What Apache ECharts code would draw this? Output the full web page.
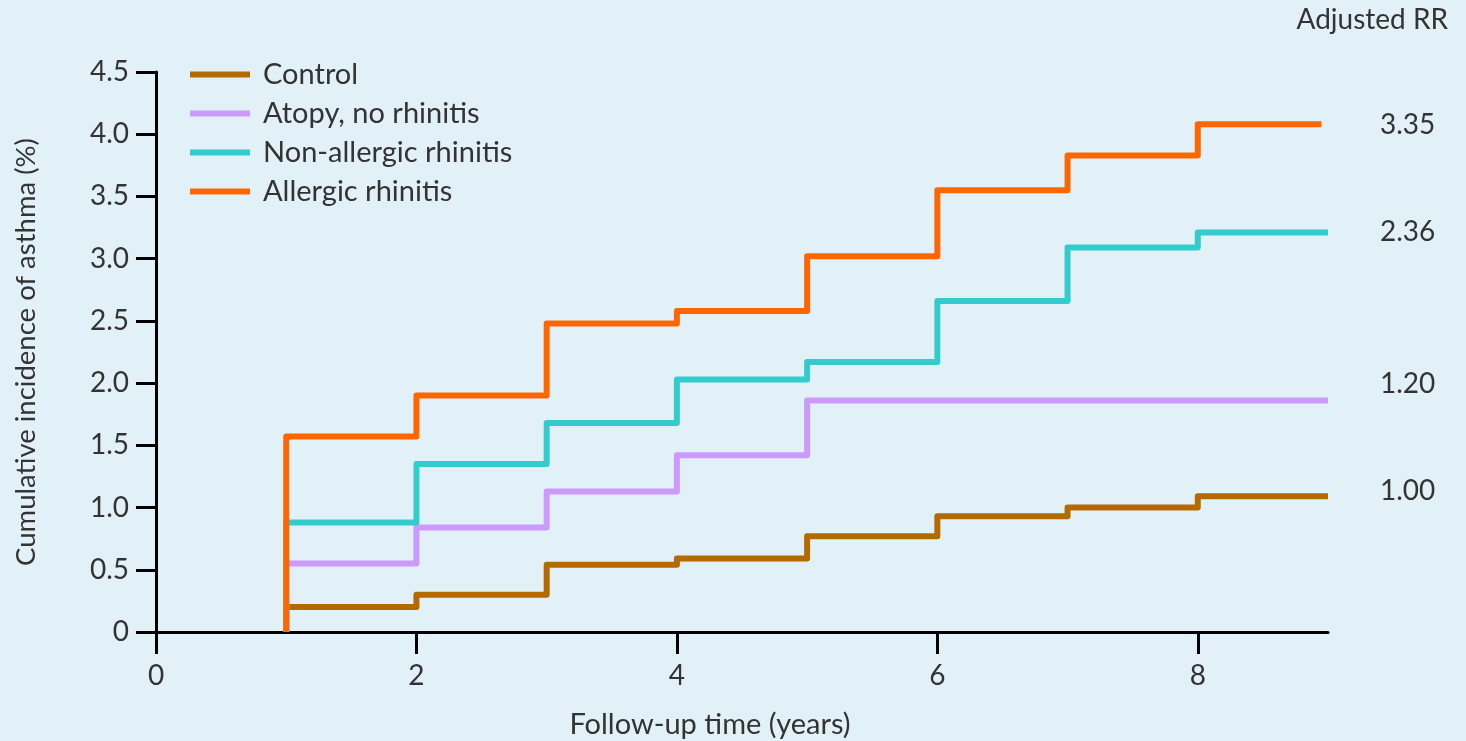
<!DOCTYPE html>
<html>
<head>
<meta charset="utf-8">
<script src="https://cdn.jsdelivr.net/npm/echarts@6/dist/echarts.min.js"></script>
<style>
html,body{margin:0;padding:0;background:#e2f1f8;}
#c{width:1466px;height:741px;}
</style>
</head>
<body>
<div id="c"></div>
<script>
var seriesNames = ['Control', 'Atopy, no rhinitis', 'Non-allergic rhinitis', 'Allergic rhinitis'];
var stepYears = [1, 2, 3, 4, 5, 6, 7, 8];
var controlVals = [0.20, 0.30, 0.54, 0.59, 0.77, 0.93, 1.00, 1.09];
var atopyVals = [0.55, 0.84, 1.13, 1.42, 1.86, 1.86, 1.86, 1.86];
var nonAllergicVals = [0.88, 1.35, 1.68, 2.03, 2.17, 2.66, 3.09, 3.21];
var allergicVals = [1.57, 1.90, 2.48, 2.58, 3.02, 3.55, 3.83, 4.08];
var endYears = [9, 9, 9, 8.95];
var adjustedRR = ['1.00', '1.20', '2.36', '3.35'];
var colors = ['#b36b00', '#cc99ff', '#33cccc', '#ff6600'];

function build(vals, endX) {
  var d = [[1, 0]];
  for (var i = 0; i < stepYears.length; i++) d.push([stepYears[i], vals[i]]);
  d.push([endX, vals[vals.length - 1]]);
  return d;
}
var allVals = [controlVals, atopyVals, nonAllergicVals, allergicVals];
var FONT = 'Lato';
var series = allVals.map(function (v, i) {
  return {
    name: seriesNames[i],
    type: 'line',
    step: 'end',
    showSymbol: false,
    symbol: 'none',
    data: build(v, endYears[i]),
    lineStyle: { color: colors[i], width: 6, join: 'round', cap: 'butt' },
    itemStyle: { color: colors[i] },
    z: 2 + i,
    animation: false
  };
});

var rrY = [491, 384, 232, 125];
var graphics = [{
  type: 'text', right: 18, top: 6,
  style: { text: 'Adjusted RR', font: '28px ' + FONT, fill: '#333' }
}];
adjustedRR.forEach(function (t, i) {
  graphics.push({
    type: 'text', x: 1380, y: rrY[i],
    style: { text: t, font: '28px ' + FONT, fill: '#333', verticalAlign: 'middle' }
  });
});

var chart = echarts.init(document.getElementById('c'));
chart.setOption({
  backgroundColor: '#e2f1f8',
  animation: false,
  grid: { left: 156, right: 138, top: 72, bottom: 109, containLabel: false, outerBoundsMode: 'none' },
  legend: {
    orient: 'vertical', left: 185, top: 55,
    icon: 'rect', itemWidth: 60, itemHeight: 6, itemGap: 10,
    textStyle: { fontFamily: FONT, fontSize: 29, color: '#333', padding: [0, 0, 0, 8] },
    data: seriesNames
  },
  xAxis: {
    type: 'value', min: 0, max: 9, interval: 2,
    name: 'Follow-up time (years)', nameLocation: 'middle', nameGap: 78,
    nameTextStyle: { fontFamily: FONT, fontSize: 29, color: '#333', padding: [0, 64, 0, 0] },
    axisLine: { lineStyle: { color: '#000', width: 3 } },
    axisTick: { length: 22, lineStyle: { color: '#000', width: 3 } },
    axisLabel: { fontFamily: FONT, fontSize: 28, color: '#333', margin: 30, showMaxLabel: false },
    splitLine: { show: false }
  },
  yAxis: {
    type: 'value', min: 0, max: 4.5, interval: 0.5,
    name: 'Cumulative incidence of asthma (%)', nameLocation: 'middle', nameGap: 116,
    nameTextStyle: { fontFamily: FONT, fontSize: 27.5, color: '#333' },
    axisLine: { show: true, lineStyle: { color: '#000', width: 3 } },
    axisTick: { show: true, length: 20, lineStyle: { color: '#000', width: 3 } },
    axisLabel: { fontFamily: FONT, fontSize: 28, color: '#333', margin: 27,
      formatter: function (v) { return v === 0 ? '0' : v.toFixed(1); } },
    splitLine: { show: false }
  },
  graphic: graphics,
  series: series
});
</script>
</body>
</html>
